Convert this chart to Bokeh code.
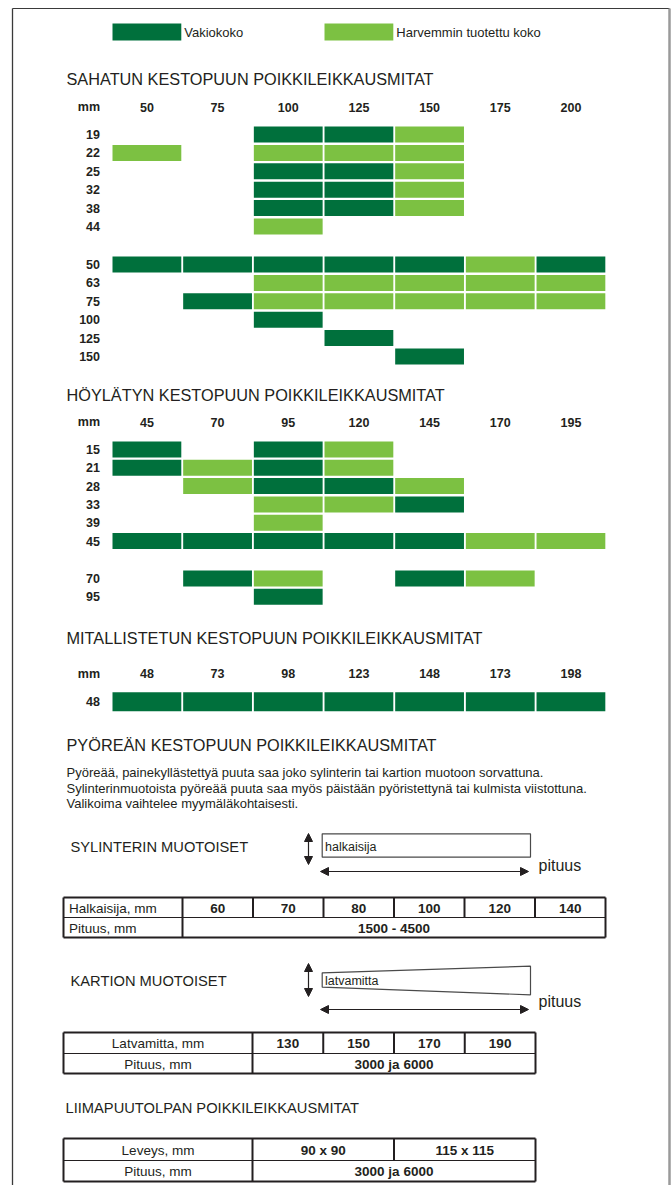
from bokeh.plotting import figure
from bokeh.models import Range1d, Arrow, NormalHead
from bokeh.core.properties import value
from bokeh.embed import file_html
from bokeh.resources import INLINE

# ---------------- data ----------------
LEGEND_LABELS = ["Vakiokoko", "Harvemmin tuotettu koko"]

SAWN_TITLE = "SAHATUN KESTOPUUN POIKKILEIKKAUSMITAT"
SAWN_WIDTHS = ["50", "75", "100", "125", "150", "175", "200"]
SAWN_THICK_1 = ["19", "22", "25", "32", "38", "44"]
SAWN_CODES_1 = [  # 1 = Vakiokoko, 2 = Harvemmin tuotettu koko, 0 = ei
    [0, 0, 1, 1, 2, 0, 0],
    [2, 0, 2, 2, 2, 0, 0],
    [0, 0, 1, 1, 2, 0, 0],
    [0, 0, 1, 1, 2, 0, 0],
    [0, 0, 1, 1, 2, 0, 0],
    [0, 0, 2, 0, 0, 0, 0],
]
SAWN_THICK_2 = ["50", "63", "75", "100", "125", "150"]
SAWN_CODES_2 = [
    [1, 1, 1, 1, 1, 2, 1],
    [0, 0, 2, 2, 2, 2, 2],
    [0, 1, 2, 2, 2, 2, 2],
    [0, 0, 1, 0, 0, 0, 0],
    [0, 0, 0, 1, 0, 0, 0],
    [0, 0, 0, 0, 1, 0, 0],
]

PLANED_TITLE = "HÖYLÄTYN KESTOPUUN POIKKILEIKKAUSMITAT"
PLANED_WIDTHS = ["45", "70", "95", "120", "145", "170", "195"]
PLANED_THICK_1 = ["15", "21", "28", "33", "39", "45"]
PLANED_CODES_1 = [
    [1, 0, 1, 2, 0, 0, 0],
    [1, 2, 1, 2, 0, 0, 0],
    [0, 2, 1, 1, 2, 0, 0],
    [0, 0, 2, 2, 1, 0, 0],
    [0, 0, 2, 0, 0, 0, 0],
    [1, 1, 1, 1, 1, 2, 2],
]
PLANED_THICK_2 = ["70", "95"]
PLANED_CODES_2 = [
    [0, 1, 2, 0, 1, 2, 0],
    [0, 0, 1, 0, 0, 0, 0],
]

METAL_TITLE = "MITALLISTETUN KESTOPUUN POIKKILEIKKAUSMITAT"
METAL_WIDTHS = ["48", "73", "98", "123", "148", "173", "198"]
METAL_THICK = ["48"]
METAL_CODES = [[1, 1, 1, 1, 1, 1, 1]]

ROUND_TITLE = "PYÖREÄN KESTOPUUN POIKKILEIKKAUSMITAT"
ROUND_TEXT = [
    "Pyöreää, painekyllästettyä puuta saa joko sylinterin tai kartion  muotoon sorvattuna.",
    "Sylinterinmuotoista pyöreää puuta saa myös päistään pyöristettynä tai kulmista viistottuna.",
    "Valikoima vaihtelee myymäläkohtaisesti.",
]
CYL_TITLE = "SYLINTERIN MUOTOISET"
CYL_DIAMETERS = ["60", "70", "80", "100", "120", "140"]
CYL_LENGTH = "1500 - 4500"
CYL_ROWS = ["Halkaisija, mm", "Pituus, mm"]
CONE_TITLE = "KARTION MUOTOISET"
CONE_TOPS = ["130", "150", "170", "190"]
CONE_LENGTH = "3000 ja 6000"
CONE_ROWS = ["Latvamitta, mm", "Pituus, mm"]
GLU_TITLE = "LIIMAPUUTOLPAN POIKKILEIKKAUSMITAT"
GLU_SIZES = ["90 x 90", "115 x 115"]
GLU_LENGTH = "3000 ja 6000"
GLU_ROWS = ["Leveys, mm", "Pituus, mm"]

# ---------------- style / layout ----------------
DARK = "#00703C"
LIGHT = "#7CC142"
INK = "#231F20"
FONT = value("Liberation Sans")
COLORS = {1: DARK, 2: LIGHT}

COL_LEFT0 = 112.0
COL_PITCH = 70.67
BAR_W = 68.8
LABEL_RIGHT = 99.5
TITLE_X = 66.0

p = figure(width=672, height=1185, x_range=Range1d(0, 672), y_range=Range1d(1185, 0),
           output_backend="svg", toolbar_location=None, min_border=0,
           x_axis_location=None, y_axis_location=None)
p.grid.visible = False
p.outline_line_color = None
p.background_fill_color = "white"
p.border_fill_color = "white"


def txt(x, y, s, size, bold=False, align="left", color=INK):
    p.text(x=[x], y=[y], text=[s], text_font=FONT, text_font_size=size,
           text_font_style="bold" if bold else "normal", text_align=align,
           text_baseline="middle", text_color=color)


# page border
p.segment(x0=[12], y0=[8], x1=[12], y1=[1185], line_color="#3a3a3a", line_width=1.3)
p.segment(x0=[12], y0=[8], x1=[669], y1=[8], line_color="#3a3a3a", line_width=1.2)
p.segment(x0=[669], y0=[8], x1=[669], y1=[1185], line_color="#9a9a9a", line_width=2.5)

# legend
for i, lab in enumerate(LEGEND_LABELS):
    x0 = COL_LEFT0 + 3 * i * COL_PITCH
    p.quad(left=[x0], right=[x0 + BAR_W], top=[23], bottom=[40], fill_color=COLORS[i + 1], line_color=None)
    txt(x0 + BAR_W + 3, 31.5, lab, "13px")


def grid(title, title_y, widths, groups, header_y, tops, pitch, bar_h):
    txt(TITLE_X, title_y, title, "16.3px")
    txt(LABEL_RIGHT, header_y, "mm", "12.5px", bold=True, align="right")
    for j, w in enumerate(widths):
        txt(COL_LEFT0 + j * COL_PITCH + BAR_W / 2, header_y, w, "12.5px", bold=True, align="center")
    lefts, rights, ys0, ys1, cols = [], [], [], [], []
    for (labels, codes), top in zip(groups, tops):
        for i, (lab, row) in enumerate(zip(labels, codes)):
            t = top + i * pitch
            txt(LABEL_RIGHT, t + bar_h / 2, lab, "12.5px", bold=True, align="right")
            for j, c in enumerate(row):
                if c:
                    lefts.append(COL_LEFT0 + j * COL_PITCH)
                    rights.append(COL_LEFT0 + j * COL_PITCH + BAR_W)
                    ys0.append(t)
                    ys1.append(t + bar_h)
                    cols.append(COLORS[c])
    p.quad(left=lefts, right=rights, top=ys0, bottom=ys1, fill_color=cols, line_color=None)


grid(SAWN_TITLE, 78.5, SAWN_WIDTHS,
     [(SAWN_THICK_1, SAWN_CODES_1), (SAWN_THICK_2, SAWN_CODES_2)],
     106.7, [126, 256], 18.4, 16)
grid(PLANED_TITLE, 394.5, PLANED_WIDTHS,
     [(PLANED_THICK_1, PLANED_CODES_1), (PLANED_THICK_2, PLANED_CODES_2)],
     421.7, [441, 570], 18.3, 16)
grid(METAL_TITLE, 637.5, METAL_WIDTHS, [(METAL_THICK, METAL_CODES)],
     673.3, [691.7], 19, 19)

# round wood
txt(TITLE_X, 744.5, ROUND_TITLE, "16.3px")
for i, line in enumerate(ROUND_TEXT):
    txt(TITLE_X, 772.4 + i * 15.5, line, "13px")


def double_arrow(x0, y0, x1, y1):
    p.add_layout(Arrow(start=NormalHead(size=8, fill_color=INK, line_color=INK, line_width=1),
                       end=NormalHead(size=8, fill_color=INK, line_color=INK, line_width=1),
                       x_start=x0, y_start=y0, x_end=x1, y_end=y1,
                       line_color=INK, line_width=1.2))


# cylinder diagram
txt(70, 846, CYL_TITLE, "14.7px")
double_arrow(308, 833, 308, 864)
p.quad(left=[321.7], right=[530], top=[833.3], bottom=[856.7], fill_color=None,
       line_color="#4a4a4a", line_width=1.2)
txt(324.5, 846.7, "halkaisija", "12.5px")
double_arrow(320, 871, 528, 871)
txt(538, 864.5, "pituus", "16px")


def table(xs, ytop, ymid, ybot, rows, vals, span, header_center):
    p.segment(x0=[xs[0], xs[0], xs[0], xs[-1]], y0=[ytop, ybot, ytop, ytop],
              x1=[xs[-1], xs[-1], xs[0], xs[-1]], y1=[ytop, ybot, ybot, ybot],
              line_color=INK, line_width=2)
    p.segment(x0=[xs[0]], y0=[ymid], x1=[xs[-1]], y1=[ymid], line_color=INK, line_width=1.2)
    p.segment(x0=[xs[1]], y0=[ytop], x1=[xs[1]], y1=[ybot], line_color=INK, line_width=2)
    inner = xs[2:-1]
    if inner:
        p.segment(x0=inner, y0=[ytop] * len(inner), x1=inner, y1=[ymid] * len(inner),
                  line_color=INK, line_width=2)
    if header_center:
        hx, ha = (xs[0] + xs[1]) / 2, "center"
    else:
        hx, ha = xs[0] + 5.5, "left"
    txt(hx, (ytop + ymid) / 2 + 0.5, rows[0], "13.5px", align=ha)
    txt(hx, (ymid + ybot) / 2 + 0.5, rows[1], "13.5px", align=ha)
    for k, v in enumerate(vals):
        txt((xs[k + 1] + xs[k + 2]) / 2, (ytop + ymid) / 2 + 0.5, v, "13.5px", bold=True, align="center")
    txt((xs[1] + xs[-1]) / 2, (ymid + ybot) / 2 + 0.5, span, "13.5px", bold=True, align="center")


TAB_X0 = 63
TAB_HEAD = 182
cyl_xs = [TAB_X0, TAB_HEAD] + [TAB_HEAD + (k + 1) * 70.5 for k in range(len(CYL_DIAMETERS))]
table(cyl_xs, 897, 917, 937, CYL_ROWS, CYL_DIAMETERS, CYL_LENGTH, False)

# cone diagram
txt(70, 980.5, CONE_TITLE, "14.7px")
double_arrow(308, 963, 308, 996)
p.patch(x=[321.7, 530, 530, 321.7], y=[972.3, 965.7, 994.3, 986.7], fill_color=None,
        line_color="#4a4a4a", line_width=1.2)
txt(324.5, 980, "latvamitta", "12.5px")
double_arrow(320, 1009, 528, 1009)
txt(538, 1001, "pituus", "16px")

cone_xs = [TAB_X0, 252] + [252 + (k + 1) * 70.75 for k in range(len(CONE_TOPS))]
table(cone_xs, 1032, 1053, 1073, CONE_ROWS, CONE_TOPS, CONE_LENGTH, True)

# glulam
txt(65, 1107.5, GLU_TITLE, "14.7px")
glu_xs = [TAB_X0, 252] + [252 + (k + 1) * 141.5 for k in range(len(GLU_SIZES))]
table(glu_xs, 1138, 1160, 1181, GLU_ROWS, GLU_SIZES, GLU_LENGTH, True)

open("out.html", "w").write(file_html(p, INLINE, title="Kestopuun poikkileikkausmitat"))
